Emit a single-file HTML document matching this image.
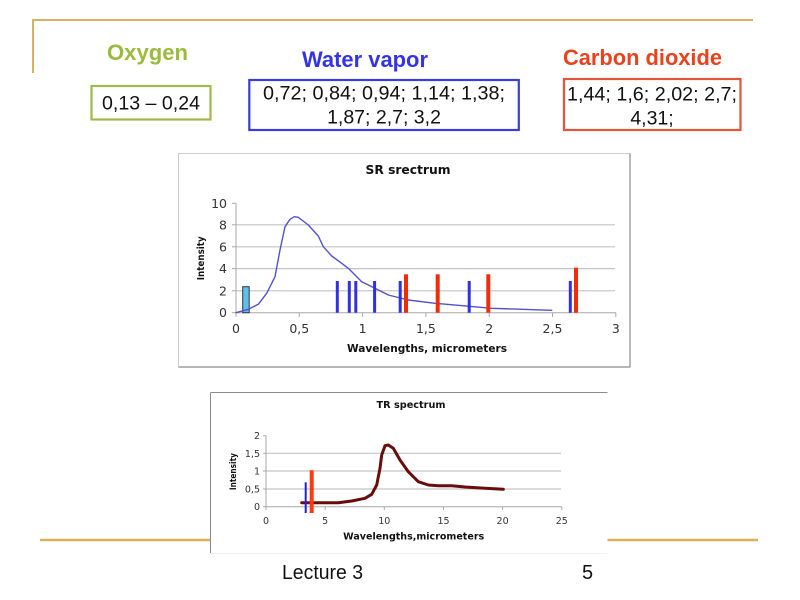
<!DOCTYPE html>
<html>
<head>
<meta charset="utf-8">
<style>
html,body{margin:0;padding:0;background:#fff;}
svg{display:block;}
</style>
</head>
<body>
<svg width="800" height="600" viewBox="0 0 800 600" xmlns="http://www.w3.org/2000/svg">
  <rect x="0" y="0" width="800" height="600" fill="#ffffff"/>

  <!-- gold frame lines -->
  <line x1="32.5" y1="20" x2="753" y2="20" stroke="#d8b060" stroke-width="2"/>
  <line x1="33" y1="19" x2="33" y2="73" stroke="#d8b060" stroke-width="2"/>
  <line x1="40" y1="540" x2="212" y2="540" stroke="#d8b060" stroke-width="2.5"/>
  <line x1="606" y1="540" x2="758" y2="540" stroke="#d8b060" stroke-width="2.5"/>

  <!-- header labels -->
  <g font-family="Liberation Sans, Arial, sans-serif" font-weight="bold" font-size="22">
    <text x="107" y="60" fill="#9cba3c" textLength="81" lengthAdjust="spacingAndGlyphs">Oxygen</text>
    <text x="302" y="67" fill="#3434e4" textLength="126" lengthAdjust="spacingAndGlyphs">Water vapor</text>
    <text x="563" y="65" fill="#e8421f" textLength="159" lengthAdjust="spacingAndGlyphs">Carbon dioxide</text>
  </g>

  <!-- boxes -->
  <rect x="91.5" y="86" width="119" height="33.5" fill="none" stroke="#a0b84c" stroke-width="2.2"/>
  <rect x="249.3" y="80" width="269.5" height="50" fill="none" stroke="#3c3cdc" stroke-width="2.2"/>
  <rect x="564" y="79" width="176.5" height="51" fill="none" stroke="#e2553a" stroke-width="2.2"/>

  <g font-family="Liberation Sans, Arial, sans-serif" font-size="19.5" fill="#111">
    <text x="102" y="109.5" textLength="98" lengthAdjust="spacingAndGlyphs">0,13 – 0,24</text>
    <text x="263" y="99.5" textLength="242" lengthAdjust="spacingAndGlyphs">0,72; 0,84; 0,94; 1,14; 1,38;</text>
    <text x="384" y="123.5" text-anchor="middle">1,87; 2,7; 3,2</text>
    <text x="567" y="100.5" textLength="170" lengthAdjust="spacingAndGlyphs">1,44; 1,6; 2,02; 2,7;</text>
    <text x="652" y="124.5" text-anchor="middle">4,31;</text>
  </g>

  <!-- ================= SR chart ================= -->
  <rect x="178.5" y="153.5" width="451.5" height="213.5" fill="#ffffff" stroke="#cccccc" stroke-width="1"/>
  <line x1="630" y1="153.5" x2="630" y2="367" stroke="#8c8c8c" stroke-width="1.2"/>
  <line x1="178.5" y1="367" x2="630.5" y2="367" stroke="#8c8c8c" stroke-width="1.2"/>

  <text x="408" y="174" font-family="DejaVu Sans, sans-serif" font-weight="bold" font-size="12.5" fill="#111" text-anchor="middle" textLength="85" lengthAdjust="spacingAndGlyphs">SR srectrum</text>

  <!-- gridlines -->
  <g stroke="#c4c4c4" stroke-width="1.2">
    <line x1="236" y1="290.8" x2="615" y2="290.8"/>
    <line x1="236" y1="268.6" x2="615" y2="268.6"/>
    <line x1="236" y1="246.8" x2="615" y2="246.8"/>
    <line x1="236" y1="224.8" x2="615" y2="224.8"/>
  </g>
  <!-- axes -->
  <g stroke="#a8a8a8" stroke-width="1">
    <line x1="236" y1="203.3" x2="236" y2="312.7"/>
    <line x1="236" y1="312.7" x2="616" y2="312.7"/>
    <line x1="232" y1="203.3" x2="236" y2="203.3"/>
    <line x1="232" y1="224.8" x2="236" y2="224.8"/>
    <line x1="232" y1="246.8" x2="236" y2="246.8"/>
    <line x1="232" y1="268.6" x2="236" y2="268.6"/>
    <line x1="232" y1="290.8" x2="236" y2="290.8"/>
    <line x1="232" y1="312.7" x2="236" y2="312.7"/>
    <line x1="236" y1="312.7" x2="236" y2="317"/>
    <line x1="299.3" y1="312.7" x2="299.3" y2="317"/>
    <line x1="362.6" y1="312.7" x2="362.6" y2="317"/>
    <line x1="425.9" y1="312.7" x2="425.9" y2="317"/>
    <line x1="489.2" y1="312.7" x2="489.2" y2="317"/>
    <line x1="552.5" y1="312.7" x2="552.5" y2="317"/>
    <line x1="615.8" y1="312.7" x2="615.8" y2="317"/>
  </g>
  <g font-family="DejaVu Sans, sans-serif" font-size="12.5" fill="#333">
    <g text-anchor="end">
      <text x="227" y="207.8">10</text>
      <text x="227" y="229.3">8</text>
      <text x="227" y="251.3">6</text>
      <text x="227" y="273.1">4</text>
      <text x="227" y="295.3">2</text>
      <text x="227" y="317.2">0</text>
    </g>
    <g text-anchor="middle">
      <text x="236" y="333">0</text>
      <text x="299.3" y="333">0,5</text>
      <text x="362.6" y="333">1</text>
      <text x="425.9" y="333">1,5</text>
      <text x="489.2" y="333">2</text>
      <text x="552.5" y="333">2,5</text>
      <text x="615.8" y="333">3</text>
    </g>
  </g>
  <text x="427" y="352" font-family="DejaVu Sans, sans-serif" font-weight="bold" font-size="10.5" fill="#111" text-anchor="middle" textLength="160" lengthAdjust="spacingAndGlyphs">Wavelengths, micrometers</text>
  <text transform="translate(204,258.3) rotate(-90)" x="0" y="0" font-family="DejaVu Sans, sans-serif" font-weight="bold" font-size="10" fill="#111" text-anchor="middle" textLength="44" lengthAdjust="spacingAndGlyphs">Intensity</text>

  <!-- oxygen bar -->
  <rect x="242.7" y="286.7" width="6.5" height="26" fill="#5cc0ee" stroke="#333" stroke-width="1"/>

  <!-- SR curve -->
  <polyline fill="none" stroke="#5252cc" stroke-width="1.4" stroke-linejoin="round" stroke-linecap="round"
    points="236,312.7 248.3,309.3 258.3,304.3 266.7,293.3 275,276.7 280,250 285,226.7 290,219.3 294.3,216.7 298.3,217.3 308.3,225 318.3,236 323.3,246.7 331.7,256 341.7,263.3 348.3,268.3 355,275 361.7,281.7 375,288.3 388.3,295 408.3,300 435,303.3 458.3,305.3 491.7,308.3 551.7,310.3"/>

  <!-- water vapor lines -->
  <g stroke="#3030e2" stroke-width="3">
    <line x1="337.3" y1="281" x2="337.3" y2="312.7"/>
    <line x1="349.3" y1="281" x2="349.3" y2="312.7"/>
    <line x1="355.8" y1="281" x2="355.8" y2="312.7"/>
    <line x1="374.6" y1="281" x2="374.6" y2="312.7"/>
    <line x1="400.2" y1="281" x2="400.2" y2="312.7"/>
    <line x1="469.2" y1="281" x2="469.2" y2="312.7"/>
    <line x1="570.3" y1="281" x2="570.3" y2="312.7"/>
  </g>
  <!-- CO2 lines -->
  <g stroke="#f22c0a" stroke-width="4">
    <line x1="406" y1="274.3" x2="406" y2="312.7"/>
    <line x1="437.7" y1="274.3" x2="437.7" y2="312.7"/>
    <line x1="488.3" y1="274.3" x2="488.3" y2="312.7"/>
    <line x1="576" y1="267.7" x2="576" y2="312.7"/>
  </g>

  <!-- ================= TR chart ================= -->
  <rect x="210.5" y="392.5" width="397" height="161" fill="#ffffff"/>
  <line x1="210.5" y1="392.5" x2="607.5" y2="392.5" stroke="#8c8c8c" stroke-width="1"/>
  <line x1="210.5" y1="392.5" x2="210.5" y2="553" stroke="#8c8c8c" stroke-width="1"/>
  <line x1="210.5" y1="553.5" x2="607.5" y2="553.5" stroke="#eeeeee" stroke-width="1"/>

  <text x="411" y="408" font-family="DejaVu Sans, sans-serif" font-weight="bold" font-size="10" fill="#111" text-anchor="middle" textLength="69" lengthAdjust="spacingAndGlyphs">TR spectrum</text>

  <g stroke="#c4c4c4" stroke-width="1.2">
    <line x1="266" y1="453.3" x2="561" y2="453.3"/>
    <line x1="266" y1="471" x2="561" y2="471"/>
    <line x1="266" y1="489" x2="561" y2="489"/>
  </g>
  <g stroke="#a8a8a8" stroke-width="1">
    <line x1="266" y1="435.7" x2="266" y2="506.7"/>
    <line x1="266" y1="506.7" x2="561.8" y2="506.7"/>
    <line x1="263" y1="435.7" x2="266" y2="435.7"/>
    <line x1="263" y1="453.3" x2="266" y2="453.3"/>
    <line x1="263" y1="471" x2="266" y2="471"/>
    <line x1="263" y1="489" x2="266" y2="489"/>
    <line x1="263" y1="506.7" x2="266" y2="506.7"/>
    <line x1="266" y1="506.7" x2="266" y2="510"/>
    <line x1="325.2" y1="506.7" x2="325.2" y2="510"/>
    <line x1="384.3" y1="506.7" x2="384.3" y2="510"/>
    <line x1="443.5" y1="506.7" x2="443.5" y2="510"/>
    <line x1="502.6" y1="506.7" x2="502.6" y2="510"/>
    <line x1="561.8" y1="506.7" x2="561.8" y2="510"/>
  </g>
  <g font-family="DejaVu Sans, sans-serif" font-size="9.5" fill="#333">
    <g text-anchor="end">
      <text x="260" y="439.2">2</text>
      <text x="260" y="456.8">1,5</text>
      <text x="260" y="474.5">1</text>
      <text x="260" y="492.5">0,5</text>
      <text x="260" y="510.2">0</text>
    </g>
    <g text-anchor="middle">
      <text x="266" y="524">0</text>
      <text x="325.2" y="524">5</text>
      <text x="384.3" y="524">10</text>
      <text x="443.5" y="524">15</text>
      <text x="502.6" y="524">20</text>
      <text x="561.8" y="524">25</text>
    </g>
  </g>
  <text x="413.7" y="539.5" font-family="DejaVu Sans, sans-serif" font-weight="bold" font-size="9.5" fill="#111" text-anchor="middle" textLength="141" lengthAdjust="spacingAndGlyphs">Wavelengths,micrometers</text>
  <text transform="translate(236,471.6) rotate(-90)" x="0" y="0" font-family="DejaVu Sans, sans-serif" font-weight="bold" font-size="9" fill="#111" text-anchor="middle" textLength="37" lengthAdjust="spacingAndGlyphs">Intensity</text>

  <!-- TR curve -->
  <polyline fill="none" stroke="#6a0c0c" stroke-width="3" stroke-linejoin="round" stroke-linecap="round"
    points="301.7,502.7 338.3,502.7 351.7,501 365,498.3 371.7,494.3 376.7,485 380,468.3 381.7,455 385,445.7 388.3,445 393.3,448.3 400,460 408.3,471.7 418.3,481.7 428.3,485 438.3,485.7 451.7,485.7 465,487 485,488.3 503.3,489.3"/>
  <line x1="305.7" y1="482.3" x2="305.7" y2="513" stroke="#2020e0" stroke-width="2"/>
  <line x1="311.7" y1="470.3" x2="311.7" y2="513" stroke="#ff3a10" stroke-width="4"/>

  <!-- footer -->
  <g font-family="Liberation Sans, Arial, sans-serif" font-size="20" fill="#111">
    <text x="282" y="579" textLength="81" lengthAdjust="spacingAndGlyphs">Lecture 3</text>
    <text x="582" y="579">5</text>
  </g>
</svg>
</body>
</html>
